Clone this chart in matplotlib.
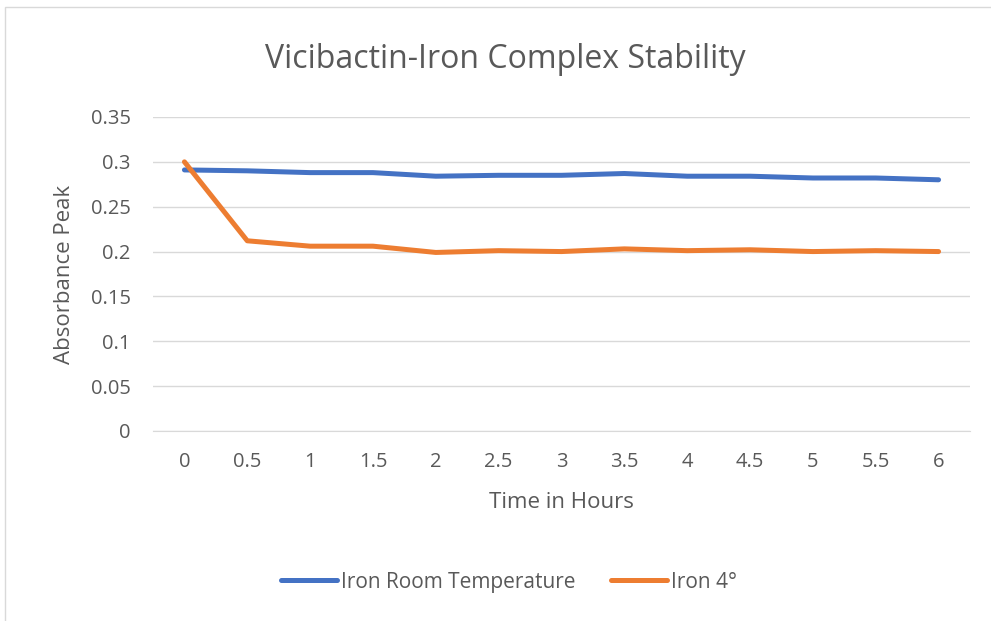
import matplotlib.pyplot as plt
from matplotlib.patches import Rectangle
import numpy as np

# data
hours = ['0', '0.5', '1', '1.5', '2', '2.5', '3', '3.5', '4', '4.5', '5', '5.5', '6']
room_temp = [0.291, 0.290, 0.288, 0.288, 0.284, 0.285, 0.285, 0.287, 0.284, 0.284, 0.282, 0.282, 0.280]
iron_4c = [0.300, 0.212, 0.206, 0.206, 0.199, 0.201, 0.200, 0.203, 0.201, 0.202, 0.200, 0.201, 0.200]
yticks = [0, 0.05, 0.1, 0.15, 0.2, 0.25, 0.3, 0.35]
ytick_labels = ['0', '0.05', '0.1', '0.15', '0.2', '0.25', '0.3', '0.35']

plt.rcParams['font.family'] = ['Open Sans', 'DejaVu Sans']
txt = '#595959'

fig = plt.figure(figsize=(9.91, 6.21), dpi=100)
ax = fig.add_axes([0.1544, 0.306, 0.8244, 0.5056])

# chart border like Excel
fig.patches.append(Rectangle((5 / 991, -0.01), 1.2, (614 / 621) + 0.01, transform=fig.transFigure,
                             fill=False, edgecolor='#D9D9D9', linewidth=1))

x = np.arange(len(hours))
ax.plot(x, room_temp, color='#4472C4', lw=3.6, solid_capstyle='round', solid_joinstyle='round',
        label='Iron Room Temperature', zorder=3)
ax.plot(x, iron_4c, color='#ED7D31', lw=3.6, solid_capstyle='round', solid_joinstyle='round',
        label='Iron 4°', zorder=3)

ax.set_xlim(-0.5, len(hours) - 0.5)
ax.set_ylim(0, 0.35)
ax.set_yticks(yticks)
ax.set_yticklabels(ytick_labels)
ax.set_xticks(x)
ax.set_xticklabels(hours)
ax.grid(axis='y', color='#D9D9D9', linewidth=1)
ax.set_axisbelow(True)
for s in ['top', 'right', 'left']:
    ax.spines[s].set_visible(False)
ax.spines['bottom'].set_color('#D9D9D9')
ax.tick_params(length=0, labelsize=14.5, colors=txt)
ax.tick_params(axis='x', pad=15)
ax.tick_params(axis='y', pad=16)

fig.text(0.51, 1 - 68 / 621, 'Vicibactin-Iron Complex Stability', fontsize=23, color=txt,
         ha='center', va='baseline')
fig.text(561.5 / 991, 1 - 508 / 621, 'Time in Hours', fontsize=16, color=txt,
         ha='center', va='baseline')
fig.text(64 / 991, 1 - 274 / 621, 'Absorbance Peak', fontsize=16, color=txt,
         ha='center', va='center', rotation=90)

leg = fig.legend(loc='center', bbox_to_anchor=(0.5136, 0.0628), ncol=2, frameon=False,
                 fontsize=15, handlelength=2.7, handletextpad=0.2, columnspacing=1.7)
for t in leg.get_texts():
    t.set_color(txt)

fig.savefig('out.png', dpi=100)
